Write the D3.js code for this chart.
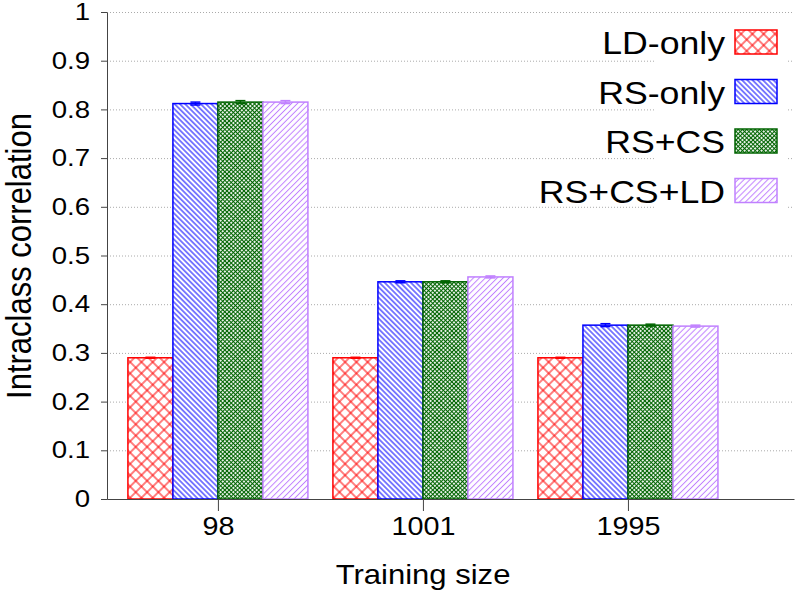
<!DOCTYPE html>
<html><head><meta charset="utf-8">
<script src="https://cdn.jsdelivr.net/npm/d3@7"></script>
<style>body{margin:0;background:#fff}svg{display:block}text{font-family:"Liberation Sans",Arial,Helvetica,sans-serif}</style>
</head><body><div id="chart"></div>
<script>
const categories = ["98", "1001", "1995"];
const seriesNames = ["LD-only", "RS-only", "RS+CS", "RS+CS+LD"];
const ldOnly   = [0.290, 0.290, 0.290];
const rsOnly   = [0.812, 0.446, 0.357];
const rsCs     = [0.815, 0.446, 0.357];
const rsCsLd   = [0.815, 0.456, 0.355];
const errors   = [[0.001,0.001,0.001],[0.003,0.002,0.003],[0.003,0.002,0.002],[0.003,0.002,0.002]];
const yTicks = [0,0.1,0.2,0.3,0.4,0.5,0.6,0.7,0.8,0.9,1];
const colors = ["#ff0000", "#0000ff", "#006400", "#c080ff"];

const series = [ldOnly, rsOnly, rsCs, rsCsLd];
const W = 797, H = 596;
const SX = 1.15;
const svg = d3.select("#chart").append("svg").attr("width", W).attr("height", H);

const x = d3.scaleLinear().domain([-0.541, 2.81]).range([107, 794]);
const y = d3.scaleLinear().domain([0, 1]).range([499, 12]);
const barW = 45;

// patterns
const defs = svg.append("defs");
function hatch(id, color, spacing, angle, sw) {
  const p = defs.append("pattern").attr("id", id).attr("patternUnits", "userSpaceOnUse")
    .attr("width", spacing).attr("height", spacing).attr("patternTransform", `rotate(${angle})`);
  p.append("rect").attr("width", spacing).attr("height", spacing).attr("fill", "#fff");
  p.append("line").attr("x1", spacing/2).attr("x2", spacing/2).attr("y1", 0).attr("y2", spacing)
    .attr("stroke", color).attr("stroke-width", sw);
}
function cross(id, color, spacing, sw) {
  const p = defs.append("pattern").attr("id", id).attr("patternUnits", "userSpaceOnUse")
    .attr("width", spacing).attr("height", spacing).attr("patternTransform", "rotate(45)");
  p.append("rect").attr("width", spacing).attr("height", spacing).attr("fill", "#fff");
  p.append("line").attr("x1", spacing/2).attr("x2", spacing/2).attr("y1", 0).attr("y2", spacing)
    .attr("stroke", color).attr("stroke-width", sw);
  p.append("line").attr("y1", spacing/2).attr("y2", spacing/2).attr("x1", 0).attr("x2", spacing)
    .attr("stroke", color).attr("stroke-width", sw);
}
cross("p0", colors[0], 8, 1);
hatch("p1", colors[1], 3.7, -45, 1);
cross("p2", colors[2], 3.0, 1.1);
hatch("p3", colors[3], 4.2, 45, 1);

// grid
svg.append("g").selectAll("line").data(yTicks).join("line")
  .attr("x1", 107).attr("x2", 794).attr("y1", d => y(d)+0.5).attr("y2", d => y(d)+0.5)
  .attr("stroke", "#aaa").attr("stroke-width", 1).attr("stroke-dasharray", "1,2");

// legend background
svg.append("rect").attr("x", 654).attr("y", 20).attr("width", 132).attr("height", 195).attr("fill", "#fff");

// bars
const g = svg.append("g");
series.forEach((vals, s) => {
  vals.forEach((v, i) => {
    const x0 = x(i) + (s - 2) * barW;
    g.append("rect").attr("x", x0).attr("y", y(v)).attr("width", barW).attr("height", y(0) - y(v))
      .attr("fill", `url(#p${s})`).attr("stroke", colors[s]).attr("stroke-width", 1.5);
    const e = errors[s][i];
    const cx = x0 + barW/2;
    g.append("line").attr("x1", cx).attr("x2", cx).attr("y1", y(v+e)).attr("y2", y(v-e))
      .attr("stroke", colors[s]).attr("stroke-width", 1.5);
    [v+e, v-e].forEach(t => g.append("line").attr("x1", cx-5).attr("x2", cx+5).attr("y1", y(t)).attr("y2", y(t))
      .attr("stroke", colors[s]).attr("stroke-width", 1.5));
  });
});

// y axis
const yAxis = svg.append("g").attr("transform", "translate(107,0)")
  .call(d3.axisLeft(y).tickValues(yTicks).tickFormat(d3.format("~g")).tickSize(6).tickSizeOuter(0).tickPadding(11));
yAxis.selectAll("text").attr("font-size", 24).attr("fill", "#000")
  .attr("font-family", "Liberation Sans, Arial, sans-serif")
  .attr("x", -17 / SX).attr("transform", `scale(${SX},1)`);
yAxis.selectAll("line,path").attr("stroke", "#444");

// x axis
const xAxis = svg.append("g").attr("transform", "translate(0,499)")
  .call(d3.axisBottom(x).tickValues([0,1,2]).tickFormat(i => categories[i]).tickSize(12).tickSizeOuter(0).tickPadding(6));
xAxis.selectAll("text").attr("font-size", 25).attr("fill", "#000")
  .attr("font-family", "Liberation Sans, Arial, sans-serif").attr("transform", `scale(${SX},1)`);
xAxis.selectAll("line,path").attr("stroke", "#444");

// titles
svg.append("text").attr("transform", `translate(423,584) scale(${SX},1)`).attr("text-anchor", "middle").attr("font-size", 27).text("Training size");
svg.append("text").attr("transform", `translate(31,256) rotate(-90) scale(1,${SX})`).attr("text-anchor", "middle").attr("font-size", 31).text("Intraclass correlation");

// legend
const leg = svg.append("g");
seriesNames.forEach((n, s) => {
  const cy = 42 + s * 49.5;
  leg.append("text").attr("transform", `translate(725,${cy + 12}) scale(${SX},1)`).attr("text-anchor", "end").attr("font-size", 31).text(n);
  leg.append("rect").attr("x", 735).attr("y", cy - 12).attr("width", 42).attr("height", 24)
    .attr("fill", `url(#p${s})`).attr("stroke", colors[s]).attr("stroke-width", 1.5);
});
</script></body></html>
